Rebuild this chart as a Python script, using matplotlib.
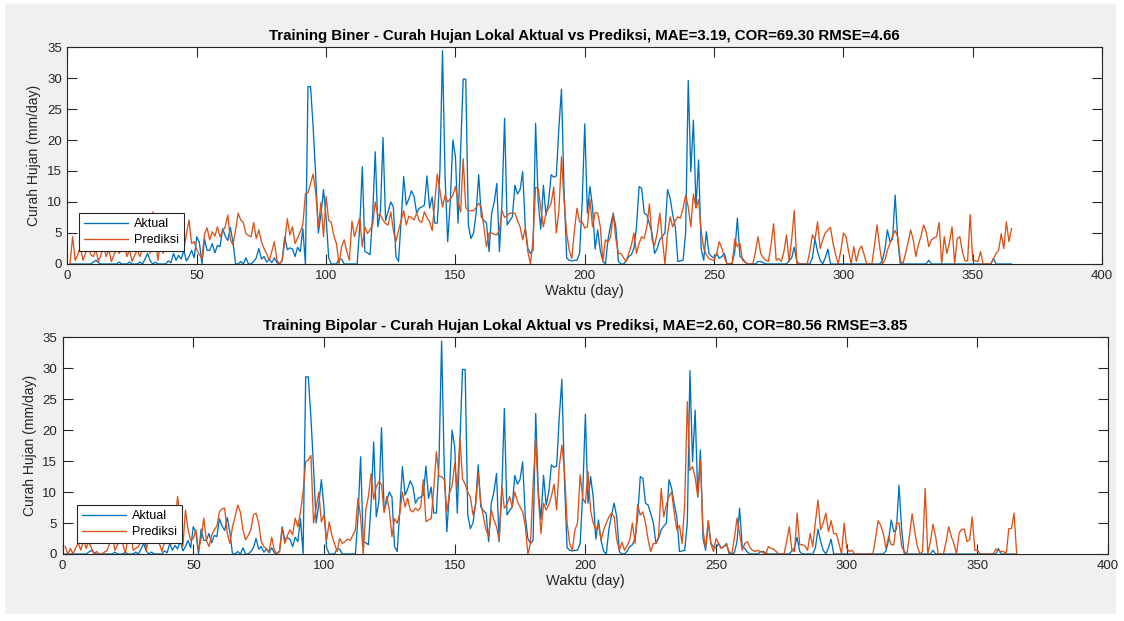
import numpy as np
import matplotlib
matplotlib.use('Agg')
import matplotlib.pyplot as plt
from matplotlib.patches import Rectangle

plt.rcParams['font.family'] = ['Liberation Sans', 'DejaVu Sans']

# Curah hujan aktual (mm/day), hari ke-1..365
aktual = [
    0, 0, 0, 0, 0, 0, 0, 0, 0, 0.3,
    0.6, 0.2, 0, 0, 0, 0, 0, 0, 0, 0.3,
    0, 0, 0, 0.3, 0, 0, 0, 0.3, 0, 0.8,
    1.7, 0.5, 0, 0.3, 0, 0, 0, 0, 0.5, 0.2,
    1.7, 0.6, 1.4, 0.8, 2.2, 0.5, 1.2, 2.2, 1.0, 4.4,
    3.5, 0, 4.0, 2.2, 2.2, 3.3, 1.8, 3.0, 2.8, 5.7,
    4.5, 3.8, 5.9, 3.5, 0, 0, 0.4, 0, 1.0, 0,
    0, 0.4, 1.0, 2.5, 0.8, 1.2, 0.3, 0.8, 0.2, 1.0,
    0.2, 0, 0.5, 4.4, 2.3, 2.6, 2.4, 1.2, 2.7, 2.0,
    5.7, 0, 28.6, 28.6, 22.0, 14.0, 5.0, 8.0, 12.0, 7.5,
    1.0, 0, 0, 0, 0.8, 0.8, 0, 0, 0, 0,
    0, 0, 6.0, 15.7, 2.0, 1.8, 1.5, 8.0, 18.1, 6.0,
    8.5, 20.4, 7.0, 8.5, 10.0, 9.2, 1.2, 0.4, 7.0, 14.1,
    9.5, 10.5, 11.8, 10.9, 8.2, 9.0, 9.2, 9.5, 14.2, 9.0,
    10.8, 6.6, 6.6, 15.0, 34.4, 14.0, 3.6, 10.0, 20.0, 17.3,
    6.6, 18.0, 29.8, 29.8, 6.3, 4.1, 5.0, 8.2, 14.4, 7.6,
    7.0, 6.6, 2.0, 8.2, 10.0, 13.0, 2.0, 10.0, 23.5, 6.3,
    7.0, 7.6, 12.7, 11.3, 12.0, 14.9, 6.0, 2.5, 1.7, 2.2,
    22.7, 10.0, 5.6, 12.7, 7.9, 10.0, 14.4, 14.0, 14.2, 22.0,
    28.2, 11.8, 1.0, 0.6, 0.5, 0.6, 0.6, 1.7, 10.0, 22.6,
    8.2, 12.5, 9.2, 2.4, 5.5, 2.2, 0.4, 0, 4.0, 6.3,
    8.2, 6.0, 0.4, 0, 0, 0.5, 1.2, 1.5, 2.5, 6.0,
    12.5, 12.2, 8.2, 7.9, 6.5, 5.0, 1.7, 2.5, 3.9, 4.5,
    5.0, 12.0, 10.6, 8.0, 6.0, 0.4, 0.5, 0.6, 5.0, 29.6,
    14.9, 23.2, 9.2, 16.8, 2.5, 0.6, 5.2, 1.7, 1.2, 1.0,
    1.7, 0.9, 1.2, 1.7, 0, 0, 0.2, 2.0, 7.4, 1.2,
    0.9, 0.3, 0, 0, 0, 0, 0.4, 0.4, 0.2, 0,
    0, 0, 0, 0, 0, 0, 0, 0, 0.5, 1.0,
    2.7, 0.4, 0, 0, 0, 0, 0, 1.0, 4.0, 2.0,
    0.6, 0, 1.0, 2.4, 0, 0, 0, 0, 0, 0,
    0, 0, 0, 0, 0, 0, 0, 0, 0, 0,
    0, 0, 0, 0, 0.5, 2.2, 5.5, 3.6, 4.0, 11.1,
    3.9, 0, 0, 0, 0, 0, 0, 0, 0, 0,
    0, 0, 0.6, 0, 0, 0, 0, 0, 0, 0,
    0, 0, 0, 0, 0, 0, 0, 0, 0, 0,
    0, 0, 0, 0, 0, 0, 0, 0.9, 0, 0,
    0, 0, 0, 0, 0,
]

# Prediksi model biner
pred_biner = [
    0, 4.4, 0.6, 1.5, 2.8, 0.6, 1.7, 3.3, 1.5, 1.2,
    2.3, 0.4, 1.5, 2.8, 1.2, 2.3, 0.4, 1.5, 2.5, 1.7,
    2.5, 3.3, 1.2, 2.3, 0.4, 1.4, 2.3, 1.2, 2.5, 4.5,
    6.0, 1.7, 8.4, 3.9, 0.6, 3.9, 1.7, 3.5, 5.2, 2.8,
    3.9, 4.5, 6.0, 2.8, 2.3, 4.8, 7.1, 3.3, 3.6, 2.3,
    1.5, 0.9, 4.9, 5.8, 3.9, 5.2, 4.5, 6.0, 4.4, 5.2,
    6.0, 7.9, 3.9, 3.1, 5.5, 8.2, 7.1, 6.7, 4.9, 4.6,
    4.4, 6.7, 4.1, 5.5, 3.6, 2.5, 1.7, 0.6, 2.0, 3.6,
    0.6, 0, 0.6, 3.5, 7.3, 4.7, 6.0, 3.3, 4.2, 5.2,
    6.3, 11.3, 11.5, 13.0, 14.5, 11.4, 6.0, 9.9, 4.4, 10.9,
    7.0, 6.7, 4.5, 3.3, 0, 2.8, 3.9, 2.0, 0.6, 6.9,
    4.4, 6.0, 7.4, 2.8, 6.0, 4.9, 5.5, 6.3, 10.0, 7.9,
    7.9, 7.1, 6.5, 6.3, 8.4, 5.4, 3.6, 5.4, 7.0, 8.6,
    6.3, 7.7, 7.5, 7.1, 8.2, 7.0, 6.7, 8.4, 7.5, 6.8,
    5.4, 10.0, 14.5, 11.9, 9.2, 11.1, 10.0, 10.5, 11.1, 12.5,
    10.0, 8.4, 17.0, 9.1, 8.6, 8.6, 8.6, 9.1, 9.8, 9.1,
    6.0, 2.8, 5.0, 5.0, 4.8, 4.7, 5.5, 8.6, 7.5, 7.8,
    8.2, 8.2, 8.2, 7.0, 6.0, 3.9, 5.8, 2.0, 0, 3.9,
    12.4, 12.2, 9.0, 6.0, 8.2, 9.0, 9.8, 12.4, 5.0, 8.6,
    17.3, 10.3, 5.0, 2.2, 0.9, 5.4, 9.0, 6.8, 6.8, 5.8,
    6.0, 10.4, 6.0, 8.3, 8.2, 6.0, 0.4, 3.9, 3.5, 4.4,
    8.1, 4.1, 1.7, 1.7, 1.0, 0.4, 1.7, 3.0, 5.0, 1.7,
    3.3, 4.4, 4.1, 6.0, 9.7, 3.9, 3.0, 5.0, 8.2, 4.0,
    0, 4.9, 7.6, 6.0, 7.0, 7.6, 7.4, 9.0, 11.1, 9.2,
    6.0, 11.3, 9.0, 10.4, 5.4, 2.5, 1.5, 0.9, 0.7, 0.6,
    1.7, 3.6, 2.5, 1.0, 0, 0, 0, 4.0, 2.8, 3.3,
    0.6, 0.3, 0, 0, 0, 2.0, 4.4, 1.7, 1.0, 0.6,
    0.4, 3.0, 6.5, 0.6, 0.9, 0.4, 2.0, 4.7, 0.4, 4.0,
    8.6, 0, 0, 0, 0, 0, 2.0, 4.7, 3.9, 6.8,
    2.5, 3.9, 5.0, 5.5, 5.9, 3.3, 1.5, 0, 2.2, 5.0,
    4.4, 2.0, 0, 2.8, 0.4, 2.2, 2.9, 1.5, 0, 0,
    0, 3.0, 6.3, 2.8, 0, 0.6, 2.2, 3.3, 4.5, 5.4,
    4.4, 0.6, 0, 1.7, 3.5, 5.5, 3.9, 1.2, 3.1, 4.5,
    6.3, 5.2, 2.8, 3.9, 4.2, 4.4, 6.7, 0, 4.4, 1.7,
    3.5, 6.0, 0, 4.1, 4.4, 2.0, 0.5, 0.5, 8.0, 0.6,
    0.5, 0.4, 2.0, 0, 0, 0, 0, 0.8, 1.7, 2.2,
    4.9, 2.5, 6.8, 3.6, 5.7,
]

# Prediksi model bipolar
pred_bipolar = [
    1.2, 0, 0.9, 0, 1.0, 1.7, 0.6, 2.3, 0.9, 2.0,
    1.0, 0, 0.4, 0, 0, 0.3, 0.6, 1.7, 3.4, 0.6,
    1.5, 2.3, 1.7, 0.1, 2.5, 3.9, 0.6, 0.9, 1.2, 2.0,
    3.9, 0.6, 3.0, 6.0, 1.7, 3.9, 1.7, 0.4, 2.0, 3.9,
    1.5, 1.7, 5.0, 9.3, 6.0, 1.2, 7.1, 3.9, 2.2, 2.5,
    3.9, 0.6, 2.5, 5.8, 2.2, 1.2, 3.0, 3.9, 4.5, 6.8,
    7.3, 7.4, 3.3, 1.7, 4.4, 6.0, 7.9, 6.8, 3.9, 2.3,
    3.0, 3.9, 6.3, 6.6, 5.0, 2.0, 1.2, 0.8, 0.4, 2.7,
    0.6, 0, 0.4, 4.1, 1.7, 3.0, 3.9, 3.1, 5.8, 4.4,
    6.8, 10.0, 14.9, 15.2, 15.9, 5.0, 7.5, 10.0, 5.2, 6.3,
    2.2, 5.2, 3.0, 1.7, 0.4, 2.5, 1.7, 2.0, 2.4, 2.2,
    3.0, 3.9, 9.0, 6.0, 0, 7.1, 9.3, 13.0, 8.8, 10.9,
    11.7, 11.2, 6.7, 9.3, 7.1, 2.8, 5.7, 5.0, 6.5, 10.0,
    7.6, 9.0, 7.1, 6.8, 7.4, 7.0, 7.6, 12.0, 5.2, 5.5,
    5.7, 10.6, 16.5, 12.5, 12.5, 12.0, 6.8, 9.8, 11.0, 14.6,
    10.6, 18.8, 12.1, 11.3, 10.0, 9.2, 6.3, 7.9, 13.1, 8.2,
    6.0, 3.9, 2.8, 7.1, 5.5, 4.4, 2.2, 11.0, 7.4, 8.0,
    9.3, 7.6, 10.0, 8.5, 7.6, 6.8, 4.6, 0, 1.7, 11.3,
    18.7, 9.3, 3.3, 8.2, 7.1, 8.0, 9.3, 11.3, 7.1, 14.1,
    17.6, 13.5, 5.0, 1.7, 0.6, 3.9, 5.0, 12.8, 9.0, 8.2,
    13.3, 7.0, 5.0, 3.9, 4.8, 2.3, 3.9, 5.0, 6.0, 6.6,
    6.0, 2.3, 0.6, 1.9, 0.6, 1.4, 2.3, 5.0, 1.7, 8.0,
    6.3, 6.8, 5.0, 2.3, 0.4, 1.7, 1.7, 2.8, 10.6, 6.0,
    8.0, 9.3, 10.0, 6.6, 3.9, 4.6, 1.7, 8.2, 24.6, 13.5,
    14.1, 12.4, 9.2, 15.1, 3.9, 0.9, 5.4, 1.7, 0.4, 2.5,
    1.7, 0.9, 1.2, 1.5, 0.4, 0, 2.5, 5.8, 3.3, 0.6,
    1.7, 2.0, 1.0, 0.6, 0.4, 0.6, 0.4, 0.2, 0, 1.2,
    0.9, 0.8, 0.4, 0, 0, 0, 2.0, 4.4, 0.6, 0.4,
    6.6, 1.5, 1.5, 1.3, 0.6, 3.3, 1.2, 5.2, 8.7, 3.9,
    5.0, 6.6, 3.6, 5.4, 3.3, 3.3, 1.7, 0, 5.0, 0.9,
    0.4, 0.6, 0, 0, 0, 0, 0, 0, 0, 0,
    2.5, 5.4, 4.6, 3.3, 0.9, 2.8, 1.5, 1.5, 5.0, 5.0,
    1.2, 0.4, 0, 3.0, 6.5, 3.6, 1.2, 0, 0.4, 10.6,
    0, 2.0, 4.8, 2.8, 0, 0, 0, 2.0, 4.4, 2.8,
    1.7, 0, 3.4, 4.0, 4.0, 2.0, 2.3, 6.0, 0.6, 0.6,
    0, 0, 0, 0, 0, 0, 0.8, 0.6, 0.4, 0.4,
    0, 4.1, 4.1, 6.6, 0,
]

assert len(aktual) == 365 and len(pred_biner) == 365 and len(pred_bipolar) == 365

hari = np.arange(1, 366)

judul = [
    'Training Biner - Curah Hujan Lokal Aktual vs Prediksi, MAE=3.19, COR=69.30 RMSE=4.66',
    'Training Bipolar - Curah Hujan Lokal Aktual vs Prediksi, MAE=2.60, COR=80.56 RMSE=3.85',
]
prediksi = [pred_biner, pred_bipolar]

biru = '#0072BD'
oranye = '#D95319'
abu = '#262626'

fig = plt.figure(figsize=(11.24, 6.21), dpi=100, facecolor='white')
fig.patches.append(Rectangle((0.0045, 0.011), 0.988, 0.982, transform=fig.transFigure,
                             facecolor='#F0F0F0', edgecolor='none', zorder=-10))

posisi = [
    [0.060, 0.5749, 0.9205, 0.3494],
    [0.0557, 0.1079, 0.9302, 0.349],
]
legend_pos = [(0.011, 0.06), (0.0138, 0.051)]

for i in range(2):
    ax = fig.add_axes(posisi[i])
    ax.set_facecolor('white')
    ax.plot(hari, aktual, color=biru, lw=0.95, label='Aktual')
    ax.plot(hari, prediksi[i], color=oranye, lw=0.95, label='Prediksi')
    ax.set_xlim(0, 400)
    ax.set_ylim(0, 35)
    ax.set_xticks(np.arange(0, 401, 50))
    ax.set_yticks(np.arange(0, 36, 5))
    ax.tick_params(direction='in', length=7, width=0.8, colors=abu, labelsize=9.5,
                   top=True, right=True, pad=4)
    for s in ax.spines.values():
        s.set_color(abu)
        s.set_linewidth(0.8)
    ax.set_title(judul[i], fontsize=10.8, fontweight='bold', color='black', pad=5)
    ax.set_xlabel('Waktu (day)', fontsize=10.5, color=abu, labelpad=2)
    ax.set_ylabel('Curah Hujan (mm/day)', fontsize=10, color=abu, labelpad=4)
    leg = ax.legend(loc='lower left', bbox_to_anchor=legend_pos[i], fontsize=9,
                    fancybox=False, framealpha=1, edgecolor=abu, handlelength=3.5,
                    borderpad=0.4, labelspacing=0.3, handletextpad=0.5,
                    borderaxespad=0)
    leg.get_frame().set_linewidth(0.8)

fig.savefig('out.png', dpi=100, facecolor=fig.get_facecolor())
